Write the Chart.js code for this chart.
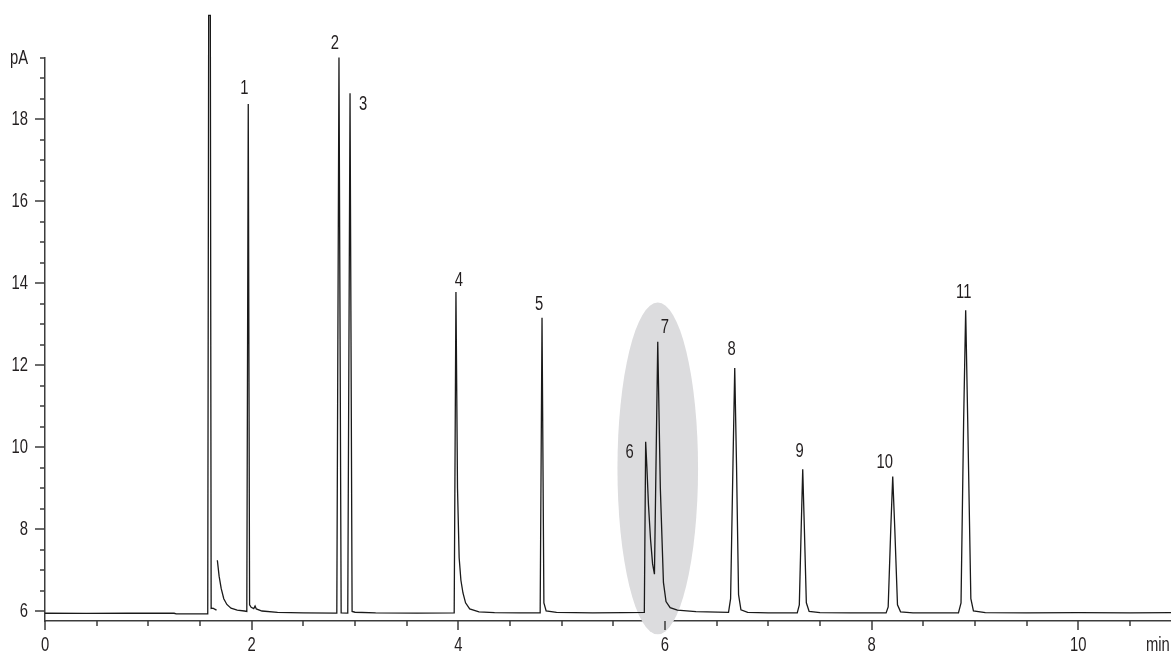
<!DOCTYPE html>
<html>
<head>
<meta charset="utf-8">
<script src="https://cdn.jsdelivr.net/npm/chart.js@4"></script>
<style>
  html, body { margin: 0; padding: 0; background: #fff; }
  #wrap { width: 1171px; height: 652px; position: relative; }
</style>
</head>
<body>
<div id="wrap"><canvas id="chromatogram"></canvas></div>
<script>
/* data */
const retentionTime = [
  0.00, 0.40, 0.80, 1.25, 1.27, 1.575,
  1.584, 1.600, 1.608, 1.625, 1.66, 1.663,
  1.668, 1.685, 1.705, 1.73, 1.76, 1.80, 1.86, 1.93, 1.953,
  1.967, 1.98, 1.995, 2.02, 2.033, 2.045, 2.10, 2.25, 2.50, 2.824,
  2.845, 2.866, 2.93,
  2.952, 2.972, 3.00, 3.20, 3.60, 3.96,
  3.977, 3.992, 4.008, 4.025, 4.045, 4.07, 4.11, 4.20, 4.35, 4.60, 4.792,
  4.810, 4.828, 4.85, 4.95, 5.30, 5.60, 5.80, 5.806,
  5.813, 5.825, 5.84, 5.86, 5.88, 5.898,
  5.930, 5.955, 5.985, 6.01, 6.05, 6.12, 6.30, 6.615,
  6.635, 6.658, 6.675, 6.692, 6.712, 6.735, 6.80, 7.00, 7.28,
  7.30, 7.318, 7.333, 7.349, 7.368, 7.395, 7.50, 7.80, 8.14,
  8.16, 8.185, 8.204, 8.224, 8.25, 8.28, 8.40, 8.84,
  8.865, 8.89, 8.910, 8.93, 8.96, 8.985, 9.10, 9.50, 10.00, 10.50, 10.897
];
const signal = [
  5.945, 5.94, 5.945, 5.945, 5.93, 5.93,
  20.54, 20.54, 6.06, 6.07, 6.02, null,
  7.24, 6.85, 6.55, 6.30, 6.16, 6.07, 6.02, 6.00, 5.99,
  18.38, 6.15, 6.09, 6.06, 6.12, 6.05, 6.00, 5.965, 5.955, 5.95,
  19.51, 5.955, 5.95,
  18.64, 5.99, 5.97, 5.955, 5.95, 5.955,
  13.79, 9.0, 7.3, 6.75, 6.44, 6.20, 6.05, 5.98, 5.96, 5.955, 5.955,
  13.16, 6.2, 6.0, 5.965, 5.955, 5.96, 5.965, 5.965,
  10.13, 9.5, 8.6, 7.75, 7.15, 6.90,
  12.57, 9.0, 6.7, 6.23, 6.08, 6.02, 5.985, 5.965,
  6.3, 9.6, 11.93, 9.6, 6.4, 6.03, 5.965, 5.955, 5.955,
  6.15, 8.0, 9.46, 8.0, 6.2, 5.99, 5.96, 5.955, 5.955,
  6.1, 8.0, 9.28, 8.0, 6.15, 5.98, 5.955, 5.955,
  6.2, 10.6, 13.34, 10.6, 6.3, 6.0, 5.96, 5.955, 5.96, 5.955, 5.96
];

const peakNames = ['1', '2', '3', '4', '5', '6', '7', '8', '9', '10', '11'];
const peakTimes = [1.967, 2.845, 2.952, 3.977, 4.810, 5.813, 5.930, 6.675, 7.333, 8.204, 8.910];
const peakHeights = [18.38, 19.51, 18.64, 13.79, 13.16, 10.13, 12.57, 11.93, 9.46, 9.28, 13.34];

const xTickValues = [0, 2, 4, 6, 8, 10];
const xTickLabels = ['0', '2', '4', '6', '8', '10'];
const yTickValues = [6, 8, 10, 12, 14, 16, 18, 19.5];
const yTickLabels = ['6', '8', '10', '12', '14', '16', '18', 'pA'];
const xUnit = 'min';

/* styling */
const font = '20px "Liberation Sans", Arimo, Arial, sans-serif';
const condense = 0.74; // narrow the face to look like a condensed font
const textColor = '#231f20';
const axisColor = '#3c3c3c';
// label offset (px) from each peak apex
const labelOffsets = [
  [-4, -15], [-4, -14], [13, 11], [3, -11], [-3, -13], [-16, 11],
  [7, -14], [-3, -19], [-3, -18], [-8, -14], [-2, -18]
];
// shaded region around peaks 6 and 7 (in axis units)
const highlight = { t: 5.93, v: 9.48, halfT: 0.39, halfV: 4.05 };

const points = retentionTime.map((t, i) => ({ x: t, y: signal[i] }));

function narrowText(ctx, text, x, y, align) {
  ctx.save();
  ctx.translate(x, y);
  ctx.scale(condense, 1);
  ctx.font = font;
  ctx.fillStyle = textColor;
  ctx.textAlign = align;
  ctx.textBaseline = 'middle';
  ctx.fillText(text, 0, 0);
  ctx.restore();
}

/*plugins*/
const highlightPlugin = {
  id: 'highlight',
  beforeDatasetsDraw(chart) {
    const { ctx, scales: { x, y } } = chart;
    const cx = x.getPixelForValue(highlight.t);
    const cy = y.getPixelForValue(highlight.v);
    const rx = x.getPixelForValue(highlight.t + highlight.halfT) - cx;
    const ry = cy - y.getPixelForValue(highlight.v + highlight.halfV);
    ctx.save();
    ctx.fillStyle = '#dcdcde';
    ctx.beginPath();
    ctx.ellipse(cx, cy, rx, ry, 0, 0, Math.PI * 2);
    ctx.fill();
    ctx.restore();
  }
};

const peakLabels = {
  id: 'peakLabels',
  afterDatasetsDraw(chart) {
    const { ctx, scales: { x, y } } = chart;
    peakNames.forEach((name, i) => {
      const px = x.getPixelForValue(peakTimes[i]) + labelOffsets[i][0];
      const py = y.getPixelForValue(peakHeights[i]) + labelOffsets[i][1];
      narrowText(ctx, name, px, py, 'center');
    });
  }
};

// ticks: long at labelled values, short every 0.5
const axisTicks = {
  id: 'axisTicks',
  afterDraw(chart) {
    const { ctx, scales: { x, y } } = chart;
    ctx.save();
    ctx.strokeStyle = axisColor;
    ctx.lineWidth = 1.5;
    ctx.beginPath();
    for (let v = 6; v <= 19.5; v += 0.5) {
      const py = Math.round(y.getPixelForValue(v));
      const len = v % 2 === 0 ? 10 : 5;
      ctx.moveTo(y.right - len, py);
      ctx.lineTo(y.right, py);
    }
    for (let t = 0; t <= 10.5; t += 0.5) {
      const px = Math.round(x.getPixelForValue(t));
      const len = t % 2 === 0 ? 9 : 5;
      ctx.moveTo(px, x.top);
      ctx.lineTo(px, x.top + len);
    }
    ctx.stroke();
    ctx.restore();

    yTickValues.forEach((v, i) => {
      narrowText(ctx, yTickLabels[i], y.right - 17, y.getPixelForValue(v), 'right');
    });
    xTickValues.forEach((t, i) => {
      narrowText(ctx, xTickLabels[i], x.getPixelForValue(t), x.top + 24, 'center');
    });
    narrowText(ctx, xUnit, x.right - 25, x.top + 24, 'left');
  }
};

new Chart(document.getElementById('chromatogram'), {
  type: 'line',
  data: {
    datasets: [{
      data: points,
      borderColor: '#1a1a1a',
      borderWidth: 1.3,
      pointRadius: 0,
      tension: 0,
      spanGaps: false,
      clip: false
    }]
  },
  options: {
    responsive: true,
    maintainAspectRatio: false,
    animation: false,
    layout: { padding: { top: 58, left: 0, right: 0, bottom: 0 } },
    plugins: { legend: { display: false }, tooltip: { enabled: false } },
    scales: {
      x: {
        type: 'linear',
        min: 0,
        max: 10.897,
        grid: { display: false },
        border: { display: true, color: axisColor, width: 1.5 },
        afterBuildTicks: (scale) => { scale.ticks = xTickValues.map(v => ({ value: v })); },
        afterFit: (scale) => { scale.height = 31; },
        ticks: { display: false }
      },
      y: {
        type: 'linear',
        min: 5.756,
        max: 19.5,
        grid: { display: false },
        border: { display: true, color: axisColor, width: 1.5 },
        afterBuildTicks: (scale) => { scale.ticks = yTickValues.map(v => ({ value: v })); },
        afterFit: (scale) => { scale.width = 45; },
        ticks: { display: false }
      }
    }
  },
  plugins: [highlightPlugin, peakLabels, axisTicks]
});
</script>
</body>
</html>
